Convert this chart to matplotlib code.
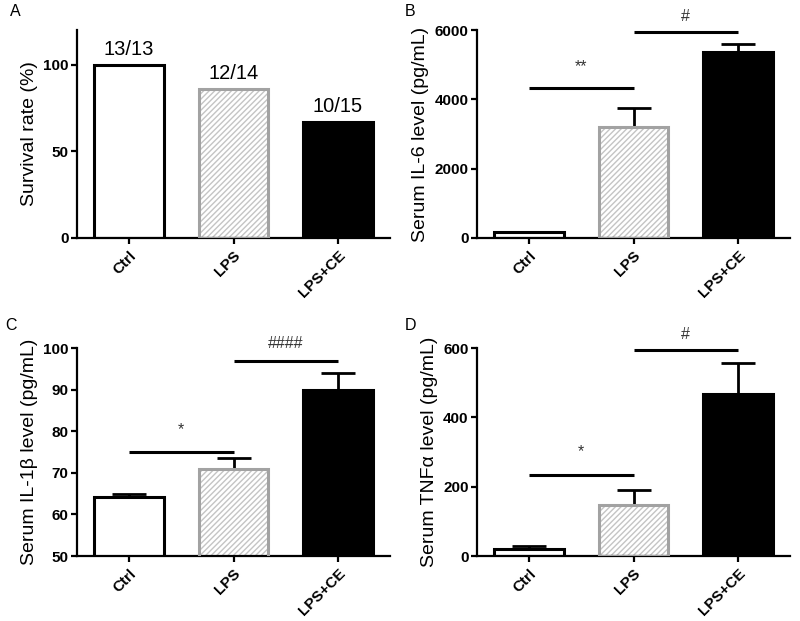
import numpy as np
import matplotlib
matplotlib.use("Agg")
import matplotlib.pyplot as plt

plt.rcParams['font.family'] = ['Liberation Sans', 'DejaVu Sans']

# 数据
groups = ['Ctrl', 'LPS', 'LPS+CE']
survival = [100, 85.7, 66.7]
survival_txt = ['13/13', '12/14', '10/15']
il6_mean = [170, 3200, 5360]
il6_sem = [15, 540, 240]
il1b_mean = [64.1, 71.0, 89.9]
il1b_sem = [0.8, 2.5, 4.1]
tnf_mean = [21, 147, 467]
tnf_sem = [9, 43, 90]

# 显著性标记 (起点, 终点, 横线高度, 文本, 文本高度)
sig_il6 = [(0, 1, 4320, '**', 4950), (1, 2, 5930, '#', 6400)]
sig_il1b = [(0, 1, 75.0, '*', 80.4), (1, 2, 96.9, '####', 101.0)]
sig_tnf = [(0, 1, 235, '*', 300), (1, 2, 595, '#', 638)]

fig = plt.figure(figsize=(8, 6.21), dpi=100)
W, H = 800, 621
TICK_FS = 11


def make_ax(x0, x1, ytop, ybot):
    return fig.add_axes([x0 / W, 1 - ybot / H, (x1 - x0) / W, (ybot - ytop) / H])


def draw_bars(ax, vals, errs=None):
    x = np.arange(len(groups))
    w = 0.67
    if errs is not None:
        ax.errorbar(x, vals, yerr=[np.zeros(len(vals)), errs], fmt='none',
                    ecolor='black', elinewidth=2, capsize=12, capthick=2, zorder=1)
    ax.bar(x[0], vals[0], w, color='white', edgecolor='black', linewidth=2.2, zorder=2)
    ax.bar(x[1], vals[1], w, color='white', edgecolor='#c4c4c4', hatch='//////',
           linewidth=0, zorder=2)
    ax.bar(x[1], vals[1], w, fill=False, edgecolor='#a2a2a2', linewidth=2.2, zorder=3)
    ax.bar(x[2], vals[2], w, color='black', edgecolor='black', linewidth=2.2, zorder=2)
    ax.set_xlim(-0.5, 2.5)
    ax.set_xticks(x)
    ax.set_xticklabels(groups, rotation=45, ha='right', rotation_mode='anchor',
                       fontsize=TICK_FS, fontweight='bold')
    for s in ['top', 'right']:
        ax.spines[s].set_visible(False)
    for s in ['left', 'bottom']:
        ax.spines[s].set_linewidth(1.6)
    ax.tick_params(axis='both', width=1.6, length=4, direction='out')
    ax.tick_params(axis='y', labelsize=TICK_FS, pad=2)


def bold_yticks(ax):
    for t in ax.get_yticklabels():
        t.set_fontweight('bold')


def draw_sig(ax, sigs):
    for i, j, yl, txt, yt in sigs:
        ax.plot([i, j], [yl, yl], color='black', lw=2.2, clip_on=False, solid_capstyle='butt')
        ax.text((i + j) / 2, yt, txt, ha='center', va='center', fontsize=11.5,
                color='#333333', clip_on=False)


# A
axA = make_ax(77, 390, 30, 238)
draw_bars(axA, survival)
axA.set_ylim(0, 120)
axA.set_yticks([0, 50, 100])
bold_yticks(axA)
for i, v in enumerate(survival):
    axA.text(i, v + 3.5, survival_txt[i], ha='center', va='bottom', fontsize=14.5)
axA.set_ylabel('Survival rate (%)', fontsize=14)
fig.text(10 / W, 1 - 12 / H, 'A', fontsize=11.5, va='center', ha='left')

# B
axB = make_ax(477, 790, 30, 238)
draw_bars(axB, il6_mean, il6_sem)
axB.set_ylim(0, 6000)
axB.set_yticks([0, 2000, 4000, 6000])
bold_yticks(axB)
draw_sig(axB, sig_il6)
axB.set_ylabel('Serum IL-6 level (pg/mL)', fontsize=14)
fig.text(405 / W, 1 - 12 / H, 'B', fontsize=11.5, va='center', ha='left')

# C
axC = make_ax(77, 390, 348, 556)
draw_bars(axC, il1b_mean, il1b_sem)
axC.set_ylim(50, 100)
axC.set_yticks([50, 60, 70, 80, 90, 100])
bold_yticks(axC)
draw_sig(axC, sig_il1b)
axC.set_ylabel('Serum IL-1β level (pg/mL)', fontsize=14)
fig.text(5 / W, 1 - 326 / H, 'C', fontsize=11.5, va='center', ha='left')

# D
axD = make_ax(477, 790, 348, 556)
draw_bars(axD, tnf_mean, tnf_sem)
axD.set_ylim(0, 600)
axD.set_yticks([0, 200, 400, 600])
bold_yticks(axD)
draw_sig(axD, sig_tnf)
axD.set_ylabel('Serum TNFα level (pg/mL)', fontsize=14)
fig.text(405 / W, 1 - 326 / H, 'D', fontsize=11.5, va='center', ha='left')

fig.savefig('out.png', dpi=100)
